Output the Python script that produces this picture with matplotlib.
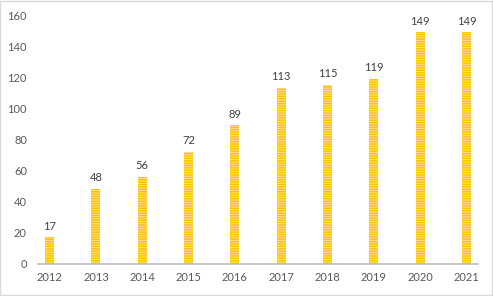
import numpy as np
import matplotlib.pyplot as plt
from matplotlib.patches import Rectangle

years = ["2012", "2013", "2014", "2015", "2016", "2017", "2018", "2019", "2020", "2021"]
values = [17, 48, 56, 72, 89, 113, 115, 119, 149, 149]

plt.rcParams["font.family"] = ["Lato", "DejaVu Sans"]
plt.rcParams["hatch.linewidth"] = 1.0

fig = plt.figure(figsize=(4.93, 2.96), dpi=100)
ax = fig.add_axes([38 / 493, (296 - 263.5) / 296, 440 / 493, 248.5 / 296])

x = np.arange(len(years))
bars = ax.bar(x, values, width=0.19, color="#FFE38A", edgecolor="#FFC000",
              linewidth=0, hatch="-------")

# value labels above bars
for xi, v in zip(x, values):
    ax.annotate(str(v), (xi, v), xytext=(0, 4), textcoords="offset points",
                ha="center", va="bottom", fontsize=8, color="#404040")

ax.set_xlim(-0.25, 9.25)
ax.set_ylim(0, 160)
ax.set_yticks(range(0, 161, 20))
ax.set_xticks(x)
ax.set_xticklabels(years)
ax.tick_params(axis="both", length=0, labelsize=8, labelcolor="#595959")
ax.tick_params(axis="y", pad=8)
ax.tick_params(axis="x", pad=6)

for side in ["top", "right", "left"]:
    ax.spines[side].set_visible(False)
ax.spines["bottom"].set_color("#BFBFBF")
ax.spines["bottom"].set_linewidth(1.2)

fig.patches.append(Rectangle((0.001, 0.002), 0.997, 0.995, transform=fig.transFigure,
                             fill=False, edgecolor="#D9D9D9", linewidth=1))

fig.savefig("out.png", dpi=100)
